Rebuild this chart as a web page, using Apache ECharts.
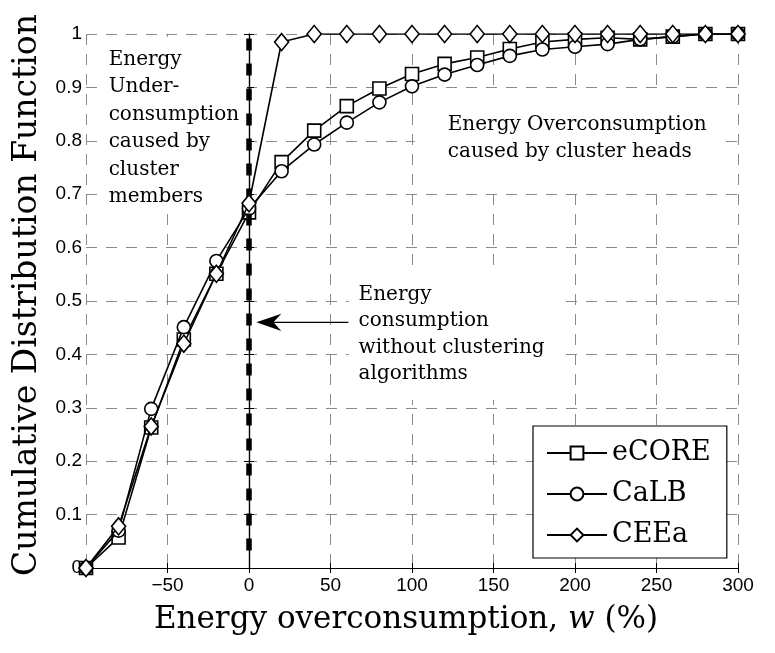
<!DOCTYPE html>
<html><head><meta charset="utf-8">
<script src="https://cdn.jsdelivr.net/npm/echarts@6/dist/echarts.min.js"></script>
<style>html,body{margin:0;padding:0;background:#fff}#c{width:775px;height:653px}</style>
</head><body><div id="c"></div>
<script>
// ---- data ----
const xValues = [-100,-80,-60,-40,-20,0,20,40,60,80,100,120,140,160,180,200,220,240,260,280,300];
const eCORE = [0,0.057,0.263,0.428,0.551,0.666,0.760,0.819,0.865,0.898,0.925,0.944,0.956,0.972,0.985,0.990,0.993,0.990,0.995,1,1];
const CaLB  = [0,0.070,0.298,0.451,0.575,0.673,0.743,0.793,0.834,0.872,0.902,0.924,0.942,0.959,0.971,0.976,0.981,0.990,0.995,1,1];
const CEEa  = [0,0.078,0.265,0.420,0.551,0.683,0.985,1,1,1,1,1,1,1,1,1,1,1,1,1,1];
const seriesNames = ['eCORE','CaLB','CEEa'];
const seriesSymbols = ['rect','circle','diamond'];
const xMin = -100, xMax = 300, xStep = 50;
const yMin = 0, yMax = 1, yStep = 0.1;
const baselineX = 0;              // energy consumption without clustering
const baselineRange = [0.033, 1];

const serif = '"DejaVu Serif", serif';
const sans = '"Liberation Sans", Arial, sans-serif';

const chart = echarts.init(document.getElementById('c'), null, {renderer:'canvas'});

function pairs(vals){ return xValues.map((x,i)=>[x, vals[i]]); }
const seriesVals = [eCORE, CaLB, CEEa];
const symbolSizes = [13, 13, [14,17]];

const gridLine = {show:true, lineStyle:{color:'#8a8a8a', type:[11,9], width:1}};
const tickIn = {show:true, inside:true, length:5, lineStyle:{color:'#000', width:1}};
const axisLineBlack = {show:true, lineStyle:{color:'#000', width:1.2}};

const series = seriesNames.map((name,i)=>({
  name, type:'line', data: pairs(seriesVals[i]),
  symbol: seriesSymbols[i], symbolSize: symbolSizes[i], showAllSymbol:true,
  lineStyle:{color:'#000', width:1.6},
  itemStyle:{color:'#fff', borderColor:'#000', borderWidth:1.6},
  z: 3+i, animation:false
}));
series[0].markLine = {
  silent:true, symbol:['none','none'], animation:false,
  label:{show:false},
  lineStyle:{color:'#000', width:5.5, type:[12,13]},
  data:[[{coord:[baselineX, baselineRange[0]]},{coord:[baselineX, baselineRange[1]]}]]
};

chart.setOption({
  animation:false,
  backgroundColor:'#fff',
  grid:{left:86, right:37, top:34, bottom:85, containLabel:false},
  xAxis:[{
    type:'value', min:xMin, max:xMax, interval:xStep,
    axisLine:axisLineBlack, axisTick:tickIn, splitLine:gridLine,
    axisLabel:{color:'#000', fontFamily:sans, fontSize:19, margin:8,
      formatter:v=> v===xMin ? '' : (v<0 ? '\u2212'+Math.abs(v) : String(v))},
    name:'Energy overconsumption, {i|w} (%)', nameLocation:'middle', nameGap:36,
    nameTextStyle:{color:'#000', fontFamily:serif, fontSize:31, padding:[0,12,0,0],
      rich:{i:{fontStyle:'italic', fontFamily:serif, fontSize:31, color:'#000'}}}
  },{
    type:'value', position:'top', min:xMin, max:xMax, interval:xStep,
    axisLine:axisLineBlack, axisTick:tickIn, splitLine:{show:false}, axisLabel:{show:false}
  }],
  yAxis:[{
    type:'value', min:yMin, max:yMax, interval:yStep,
    axisLine:axisLineBlack, axisTick:tickIn, splitLine:gridLine,
    axisLabel:{color:'#000', fontFamily:sans, fontSize:19, margin:4,
      formatter:v=>String(Math.round(v*10)/10)},
    name:'Cumulative Distribution Function', nameLocation:'middle', nameGap:42,
    nameTextStyle:{color:'#000', fontFamily:serif, fontSize:33, padding:[0,0,0,12]}
  },{
    type:'value', position:'right', min:yMin, max:yMax, interval:yStep,
    axisLine:axisLineBlack, axisTick:tickIn, splitLine:{show:false}, axisLabel:{show:false}
  }],
  legend:{
    data:seriesNames, orient:'vertical', left:533, top:426,
    backgroundColor:'#fff', borderColor:'#000', borderWidth:1.2,
    padding:[12,16,8,13], itemWidth:60, itemHeight:16, itemGap:11,
    textStyle:{color:'#000', fontFamily:serif, fontSize:27, lineHeight:30},
    selectedMode:false
  },
  series
});

// ---- annotations (white boxes) anchored to data coordinates ----
function px(x,y){ return chart.convertToPixel({xAxisIndex:0,yAxisIndex:0},[x,y]); }
const pUnder = px(-91, 0.995);
const pOver = px(101.7, 0.894);
const pNo = px(61.1, 0.563);
const aFrom = px(61, 0.46), aTo = px(4.5, 0.46);
const txt = (p, text, lh, pad) => ({type:'text', x:p[0], y:p[1], z:1,
  style:{text, font:'20px '+serif, fill:'#000', lineHeight:lh, verticalAlign:'top', align:'left',
    backgroundColor:'#fff', padding:pad}});
chart.setOption({graphic:[
  txt(pUnder, 'Energy\nUnder-\nconsumption\ncaused by\ncluster\nmembers', 27.5, [9,8,2,8]),
  txt(pOver, 'Energy Overconsumption\ncaused by cluster heads', 26.6, [21,19,22,33]),
  txt(pNo, 'Energy\nconsumption\nwithout clustering\nalgorithms', 26.4, [14,20,13,10]),
  {type:'line', z:10, shape:{x1:aFrom[0], y1:aFrom[1], x2:aTo[0]+16, y2:aTo[1]},
   style:{stroke:'#000', lineWidth:1.3}},
  {type:'polygon', z:10, shape:{points:[[aTo[0],aTo[1]],[aTo[0]+25,aTo[1]-8.7],[aTo[0]+17,aTo[1]],[aTo[0]+25,aTo[1]+8.7]]},
   style:{fill:'#000'}}
]});
</script></body></html>
